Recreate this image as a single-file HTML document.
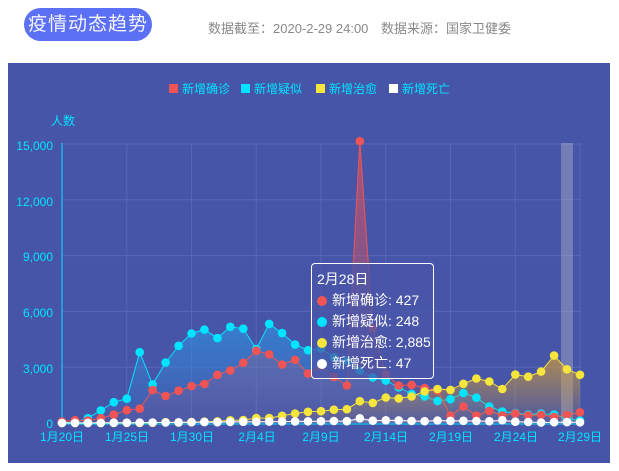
<!DOCTYPE html>
<html><head><meta charset="utf-8"><style>
body{margin:0;width:619px;height:471px;background:#fff;overflow:hidden;font-family:"Liberation Sans","Noto Sans CJK SC",sans-serif;}
.pill{position:absolute;left:24px;top:8px;width:128px;height:33px;border-radius:17px;background:#5b70f4;color:#f4f4ff;font-size:19px;line-height:33px;text-align:center;letter-spacing:1px}
.info{position:absolute;top:18px;font-size:13px;color:#888;white-space:nowrap}
.panel{position:absolute;left:8px;top:63px;width:602px;height:400px;background:#4755a8}
svg{position:absolute;left:0;top:0}
.tip{position:absolute;left:311px;top:263px;width:123px;height:116px;border:1px solid #fff;border-radius:4px;background:rgba(72,85,168,0.75);color:#fff;font-size:14px;box-sizing:border-box;padding:5px 0 0 5px;line-height:21px;white-space:nowrap}
.tip i{display:inline-block;width:10px;height:10px;border-radius:5px;margin-right:5px;vertical-align:-1px}
</style></head><body>
<div class="pill">疫情动态趋势</div>
<div class="info" style="left:208px">数据截至：2020-2-29 24:00</div>
<div class="info" style="left:381px">数据来源：国家卫健委</div>
<div class="panel"></div>
<svg width="619" height="471" id="s" font-family="Liberation Sans, Noto Sans CJK SC, sans-serif">
<g fill="#00e5ff" font-size="12">
<rect x="169" y="84" width="9" height="9" fill="#f05454"/><text x="182" y="93">新增确诊</text>
<rect x="241" y="84" width="9" height="9" fill="#00e5ff"/><text x="254" y="93">新增疑似</text>
<rect x="316" y="84" width="9" height="9" fill="#f5e53c"/><text x="329" y="93">新增治愈</text>
<rect x="389" y="84" width="9" height="9" fill="#fff"/><text x="402" y="93">新增死亡</text>
<text x="51" y="125">人数</text>
<g text-anchor="end"><text x="53" y="150">15,000</text><text x="53" y="206">12,000</text><text x="53" y="261">9,000</text><text x="53" y="317">6,000</text><text x="53" y="373">3,000</text><text x="53" y="428">0</text></g>
<g text-anchor="middle" font-size="12"><text x="62" y="441">1月20日</text><text x="127" y="441">1月25日</text><text x="192" y="441">1月30日</text><text x="257" y="441">2月4日</text><text x="321" y="441">2月9日</text><text x="386" y="441">2月14日</text><text x="451" y="441">2月19日</text><text x="516" y="441">2月24日</text><text x="580" y="441">2月29日</text></g>
</g>
<g stroke="#5766b5" stroke-width="1" id="grid"></g>
<line x1="62" y1="143" x2="62" y2="424" stroke="#00e5ff"/>
<line x1="62" y1="424" x2="582" y2="424" stroke="#00e5ff"/>
<rect x="561" y="143" width="12" height="281" fill="rgba(200,200,210,0.35)"/>
<defs>
<linearGradient id="gr" x1="0" y1="0" x2="0" y2="1"><stop offset="0" stop-color="#f05454" stop-opacity="0.6"/><stop offset="1" stop-color="#f05454" stop-opacity="0.05"/></linearGradient>
<linearGradient id="gc" x1="0" y1="0" x2="0" y2="1"><stop offset="0" stop-color="#2f8fe0" stop-opacity="0.7"/><stop offset="1" stop-color="#2f8fe0" stop-opacity="0.05"/></linearGradient>
<linearGradient id="gy" x1="0" y1="0" x2="0" y2="1"><stop offset="0" stop-color="#d8a030" stop-opacity="0.7"/><stop offset="1" stop-color="#d8a030" stop-opacity="0.05"/></linearGradient>
<linearGradient id="gw" x1="0" y1="0" x2="0" y2="1"><stop offset="0" stop-color="#fff" stop-opacity="0.4"/><stop offset="1" stop-color="#fff" stop-opacity="0.05"/></linearGradient>
</defs>
<g id="series"></g>
</svg>
<div class="tip">2月28日<br><i style="background:#f05454"></i>新增确诊: 427<br><i style="background:#00e5ff"></i>新增疑似: 248<br><i style="background:#f5e53c"></i>新增治愈: 2,885<br><i style="background:#fff"></i>新增死亡: 47</div>
<script>
function X(i){return 62+i*12.95}function Y(v){return 423-v*0.0186}
var g=document.getElementById("grid"),h="";
for(var k=1;k<=5;k++){h+='<line x1="62" x2="582" y1="'+Y(k*3000)+'" y2="'+Y(k*3000)+'"/>';}
for(var k=1;k<=8;k++){h+='<line y1="143" y2="423" x1="'+X(k*5)+'" x2="'+X(k*5)+'"/>';}
g.innerHTML=h;
var red=[77,149,131,259,444,688,769,1771,1459,1737,1982,2102,2590,2829,3235,3887,3694,3143,3399,2656,3062,2478,2015,15152,5090,2641,2009,2048,1886,1749,394,889,397,648,409,508,406,433,327,427,573];
var cy=[27,26,257,680,1118,1309,3806,2077,3248,4148,4812,5019,4562,5173,5072,3971,5328,4833,4214,3916,4008,3536,3342,2807,2450,2277,1918,1563,1432,1185,1277,1614,1361,882,620,530,452,508,452,248,132];
var ye=[0,0,0,6,3,11,2,9,43,21,47,72,85,147,157,262,261,387,510,600,632,716,744,1171,1081,1373,1323,1425,1701,1824,1779,2109,2393,2231,1826,2606,2491,2761,3622,2885,2589];
var de=[0,3,8,8,16,15,24,26,26,38,43,46,45,57,64,65,73,73,86,89,97,108,97,254,121,143,142,105,98,136,114,118,109,97,150,71,52,29,44,47,35];
var S=[[cy,"#00e5ff","url(#gc)"],[red,"#f05454","url(#gr)"],[ye,"#f5e53c","url(#gy)"],[de,"#ffffff","url(#gw)"]];
var out="";
S.forEach(function(s){var d=s[0],p="";for(var i=0;i<d.length;i++)p+=(i?"L":"M")+X(i).toFixed(1)+","+Y(d[i]).toFixed(1);
out+='<path d="'+p+'L'+X(40)+',423L62,423Z" fill="'+s[2]+'"/>';
out+='<path d="'+p+'" fill="none" stroke="'+s[1]+'" stroke-width="1"/>';});
S.forEach(function(s){var d=s[0];for(var i=0;i<d.length;i++)out+='<circle cx="'+X(i).toFixed(1)+'" cy="'+Y(d[i]).toFixed(1)+'" r="4.3" fill="'+s[1]+'"/>';});
document.getElementById("series").innerHTML=out;
</script>
</body></html>
